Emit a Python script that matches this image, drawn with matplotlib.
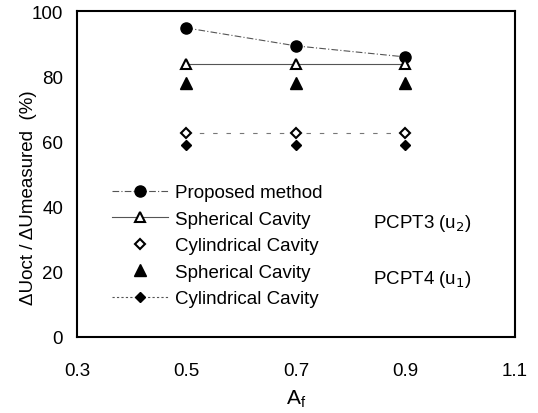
import matplotlib.pyplot as plt
from matplotlib.lines import Line2D

plt.rcParams['font.family'] = ['Liberation Sans', 'DejaVu Sans']

af = [0.5, 0.7, 0.9]
proposed = [94.8, 89.3, 85.9]
sph_u2 = [83.7, 83.7, 83.7]
cyl_u2 = [62.6, 62.6, 62.6]
sph_u1 = [78.0, 78.0, 78.0]
cyl_u1 = [59.0, 59.0, 59.0]

fig = plt.figure(figsize=(5.38, 4.14), dpi=100)
ax = fig.add_axes([0.143, 0.184, 0.814, 0.787])

ax.plot(af, proposed, color='#555555', lw=0.8, ls=(0, (6, 2, 1, 2)),
        marker='o', ms=8, mfc='black', mec='black')
ax.plot(af, sph_u2, color='#555555', lw=0.8, ls='-',
        marker='^', ms=7, mfc='white', mec='black', mew=1.5)
ax.plot(af, cyl_u2, color='#777777', lw=0.8, ls=(0, (4, 8)),
        marker='D', ms=5, mfc='white', mec='black', mew=1.5)
ax.plot(af, sph_u1, ls='none', marker='^', ms=8, color='black')
ax.plot(af, cyl_u1, ls='none', marker='D', ms=5.5, color='black')

handles = [
    Line2D([], [], color='#555555', lw=0.8, ls=(0, (6, 2, 1, 2)),
           marker='o', ms=8, mfc='black', mec='black'),
    Line2D([], [], color='#555555', lw=0.8, marker='^', ms=7,
           mfc='white', mec='black', mew=1.5),
    Line2D([], [], ls='none', marker='D', ms=5, mfc='white', mec='black', mew=1.5),
    Line2D([], [], ls='none', marker='^', ms=8, color='black'),
    Line2D([], [], color='#555555', lw=0.8, ls=(0, (2, 2)),
           marker='D', ms=5.5, mfc='black', mec='black'),
]
labels = ['Proposed method', 'Spherical Cavity', 'Cylindrical Cavity',
          'Spherical Cavity', 'Cylindrical Cavity']
ax.legend(handles, labels, frameon=False, loc='upper left',
          bbox_to_anchor=(0.042, 0.52), fontsize=13.5, handlelength=3.0,
          labelspacing=0.5, handletextpad=0.37, borderpad=0.4)

ax.text(0.84, 35.0, 'PCPT3 (u$_2$)', fontsize=13.5, va='center')
ax.text(0.84, 17.8, 'PCPT4 (u$_1$)', fontsize=13.5, va='center')

ax.set_xlim(0.3, 1.1)
ax.set_ylim(0, 100)
ax.set_xticks([0.3, 0.5, 0.7, 0.9, 1.1])
ax.set_yticks([0, 20, 40, 60, 80, 100])
ax.tick_params(length=0, labelsize=13.5, pad=10)
ax.tick_params(axis='x', pad=18)
ax.set_xlabel('A$_\\mathregular{f}$', fontsize=15, labelpad=6)
ax.set_ylabel('ΔUoct / ΔUmeasured  (%)', fontsize=13.5)
ax.yaxis.set_label_coords(-0.091, 0.43)
for s in ax.spines.values():
    s.set_linewidth(1.5)

fig.savefig('out.png', dpi=100)
